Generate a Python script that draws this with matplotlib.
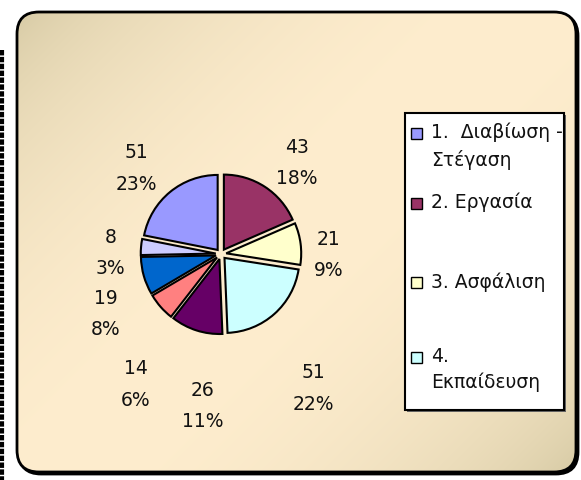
import numpy as np
import matplotlib
matplotlib.use('Agg')
import matplotlib.pyplot as plt
from matplotlib.patches import FancyBboxPatch, Rectangle

plt.rcParams['font.family'] = ['DejaVu Sans']

# values (first slice = category 1, clockwise)
values = [51, 43, 21, 51, 26, 14, 19, 8]
pct_labels = ['23%', '18%', '9%', '22%', '11%', '6%', '8%', '3%']
colors = ['#9999FF', '#993366', '#FFFFCC', '#CCFFFF',
          '#660066', '#FF8080', '#0066CC', '#CCCCFF']
legend_labels = ['1.  Διαβίωση -\nΣτέγαση', '2. Εργασία',
                 '3. Ασφάλιση', '4.\nΕκπαίδευση']

W, H = 581, 480
fig = plt.figure(figsize=(W / 100, H / 100), dpi=100)
fig.patch.set_facecolor('white')

# background axes in pixel coordinates (y down)
bg = fig.add_axes([0, 0, 1, 1])
bg.axis('off')

# rounded frame with gradient fill
x0, y0, fw, fh = 17, 12, 559, 460
shadow = FancyBboxPatch((x0 + 2, y0 + 2), fw, fh, boxstyle='round,pad=0,rounding_size=22',
                        fc='black', ec='black', lw=2, zorder=0.5)
bg.add_patch(shadow)
yy, xx = np.mgrid[0:1:200j, 0:1:240j]
s = (xx * fw + yy * fh) / (fw + fh)
w = np.sin(np.pi * s) ** 0.6
dark = np.array([212, 200, 162]) / 255
light = np.array([254, 237, 206]) / 255
img = dark + (light - dark) * w[..., None]
im = bg.imshow(img, extent=(x0, x0 + fw, y0 + fh, y0), aspect='auto',
               interpolation='bilinear', zorder=1)
frame = FancyBboxPatch((x0, y0), fw, fh, boxstyle='round,pad=0,rounding_size=22',
                       fc='none', ec='black', lw=2, zorder=3)
bg.add_patch(frame)
im.set_clip_path(frame)

# dotted line on the left edge
bg.plot([2, 2], [50, 480], color='black', lw=3, ls=(0, (1.3, 0.35)), zorder=2)

bg.set_xlim(0, W)
bg.set_ylim(H, 0)

# legend (only first four entries are visible)
bg.add_patch(Rectangle((407, 115), 159, 297, fc='#666666', ec='none', zorder=4))
bg.add_patch(Rectangle((405, 113), 159, 297, fc='white', ec='black', lw=1.5, zorder=5))
entry_y = [133, 203, 282, 357]
for lab, col, yc in zip(legend_labels, colors[:4], entry_y):
    bg.add_patch(Rectangle((411, yc - 5.5), 11, 11, fc=col, ec='black', lw=1, zorder=6))
    bg.text(431, yc - 10, lab, ha='left', va='top', fontsize=13.5,
            linespacing=1.45, color='#111111', zorder=6)

# pie
cx, cy, size = 221, 254, 240
pax = fig.add_axes([(cx - size / 2) / W, (H - cy - size / 2) / H, size / W, size / H])
total = sum(values)
wedges, _ = pax.pie(values, colors=colors, startangle=90 + values[0] / total * 360,
                    counterclock=False, explode=[0.07] * len(values), radius=1,
                    wedgeprops=dict(edgecolor='black', linewidth=1.5))
pax.set_xlim(-1.6, 1.6)
pax.set_ylim(-1.6, 1.6)
pax.axis('off')

label_r = [1.61, 1.58, 1.43, 2.17, 2.04, 2.08, 1.73, 1.47]
label_da = [5.3, -6.7, -7.9, -7.3, 10.9, 15.6, 11.7, 4.5]
for wd, v, p, r, da in zip(wedges, values, pct_labels, label_r, label_da):
    ang = np.deg2rad((wd.theta1 + wd.theta2) / 2 + da)
    pax.text(r * np.cos(ang), r * np.sin(ang), f'{v}\n{p}', ha='center', va='center',
             fontsize=13.5, linespacing=1.85, color='#111111')

fig.savefig('out.png', dpi=100)
